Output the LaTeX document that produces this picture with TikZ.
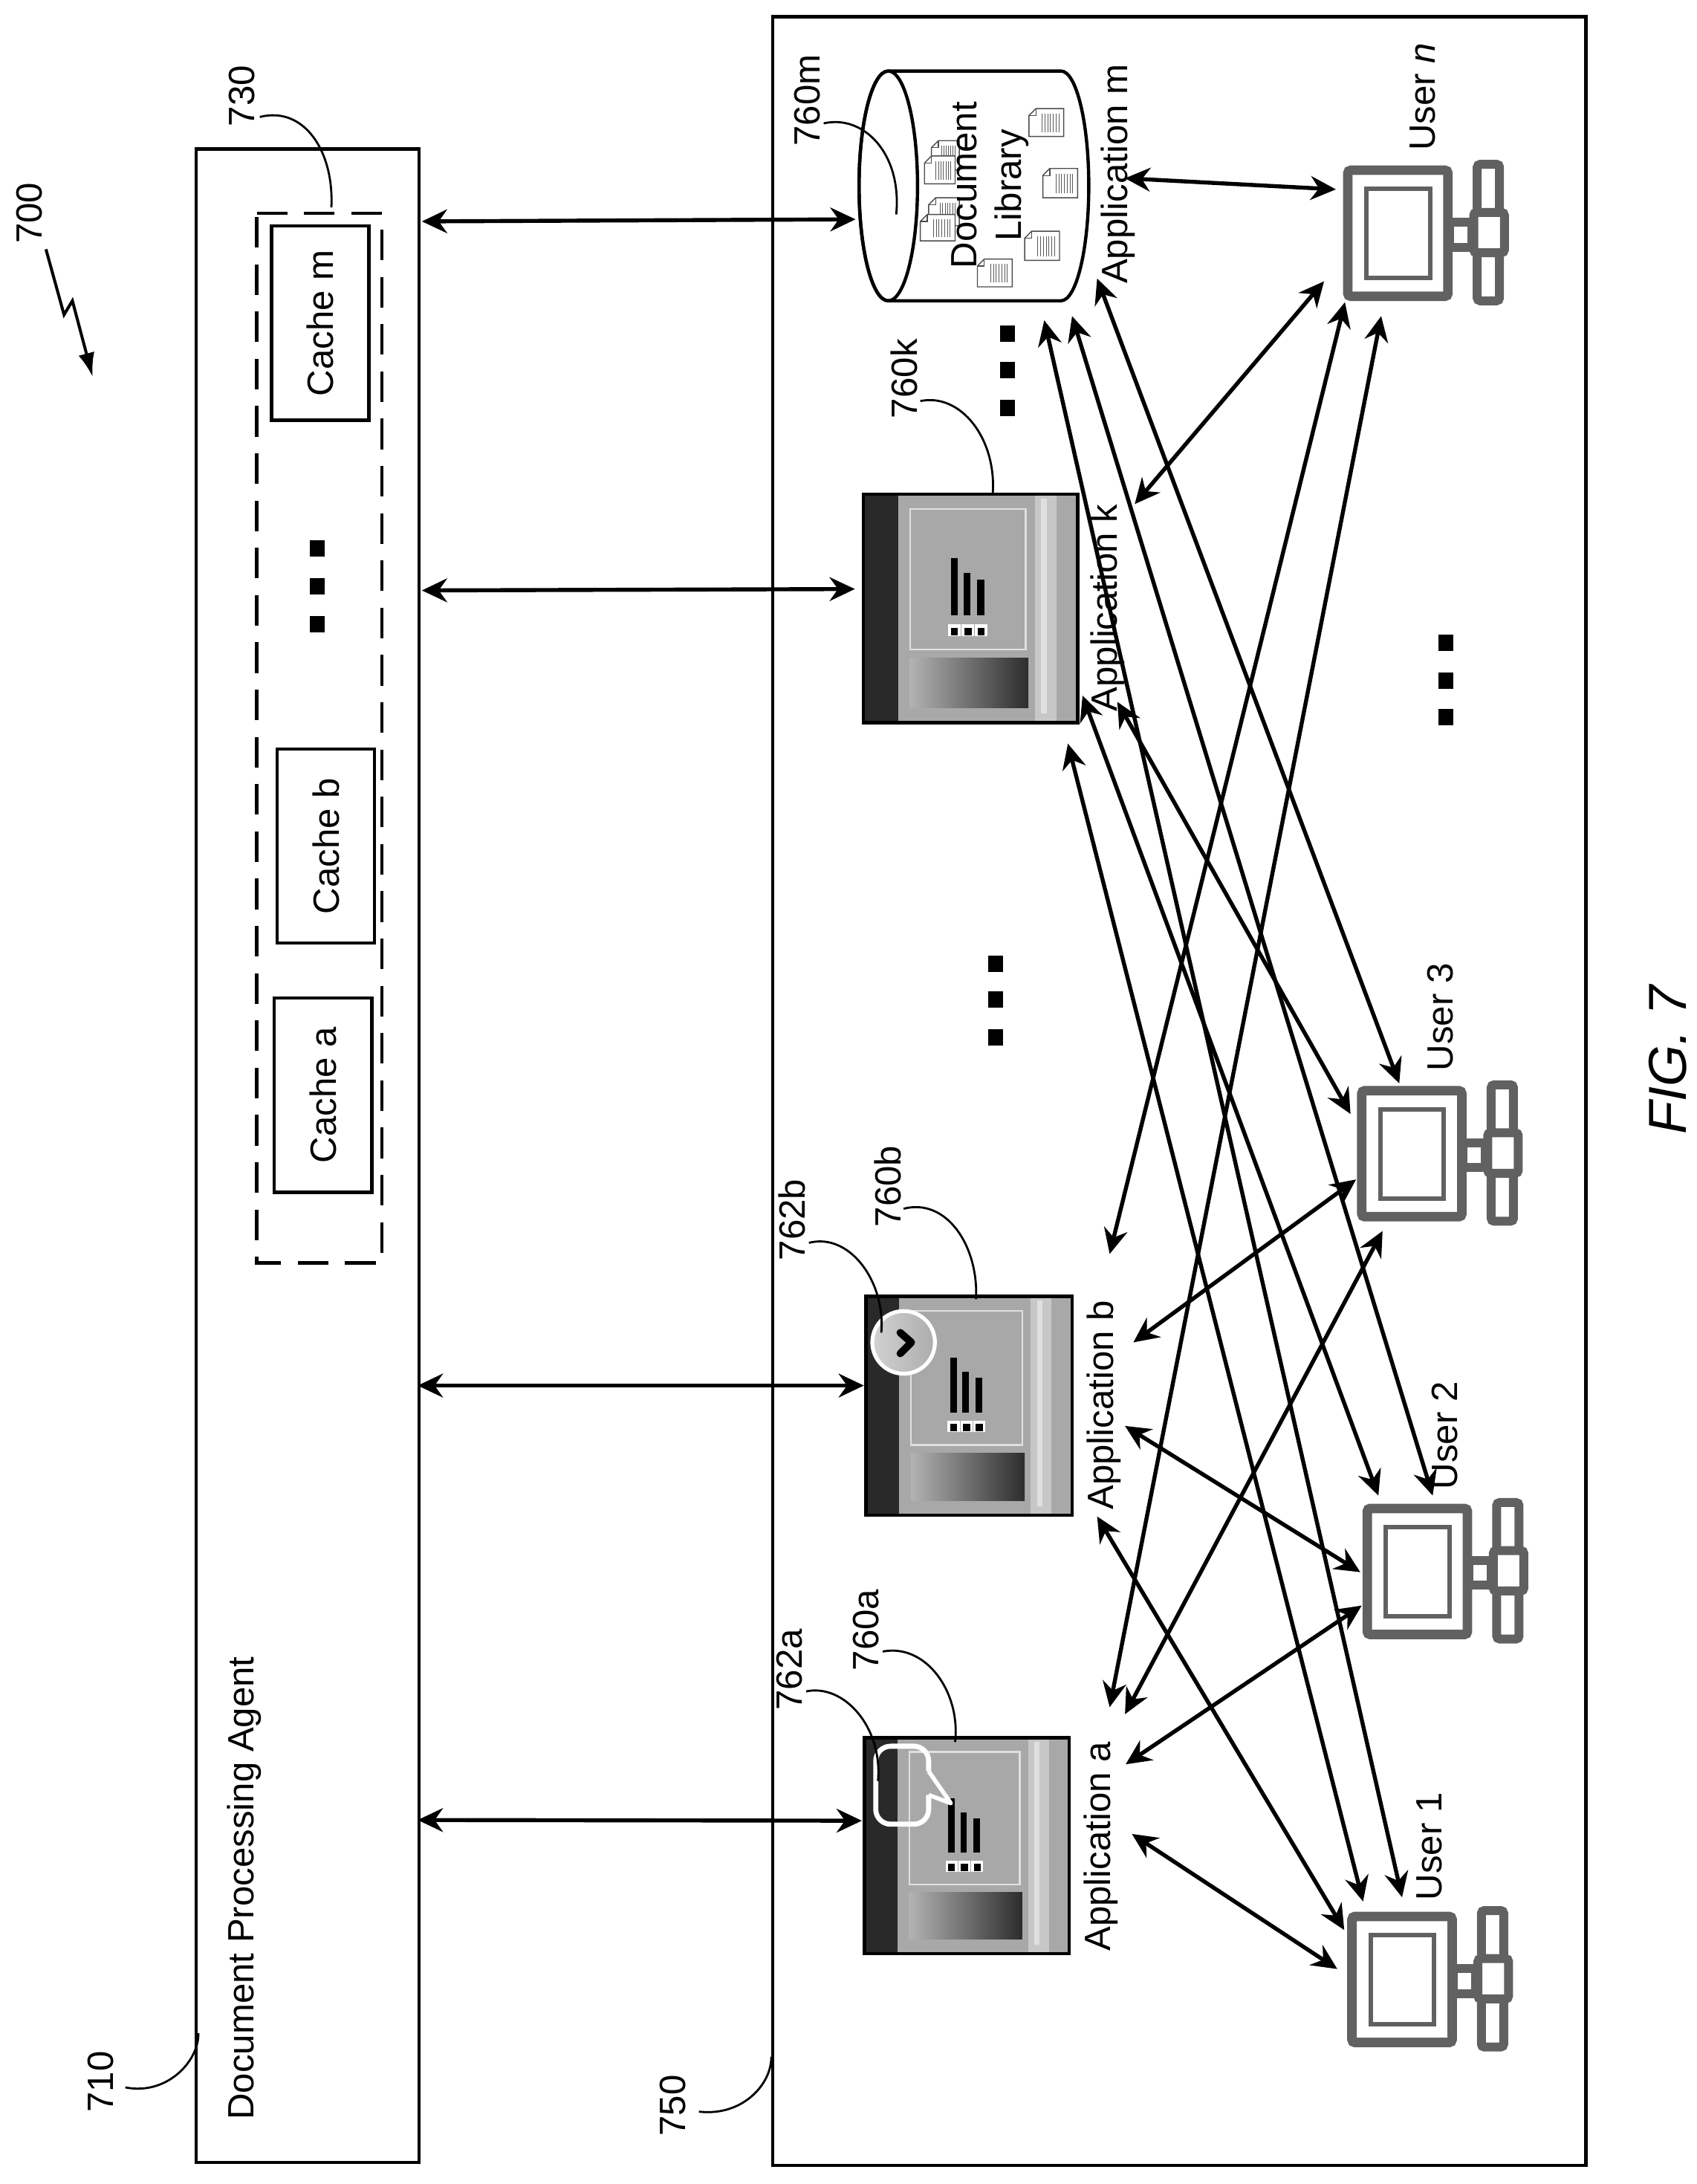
\documentclass[tikz,border=0pt]{standalone}
\usepackage{fontspec}
\setmainfont{Liberation Sans}
\usetikzlibrary{arrows.meta}
\definecolor{appbody}{gray}{0.66}
\definecolor{appbar}{gray}{0.16}
\definecolor{appline}{gray}{0.88}
\definecolor{usergray}{gray}{0.38}
\tikzset{
  outerbox/.style={draw, rotate=90, line width=1.1pt, inner sep=0pt},
  cachebox/.style={draw, rotate=90, line width=1.1pt, inner sep=0pt, fill=white, minimum width=65.3pt, minimum height=32.8pt, font=\fontsize{12.3}{14}\selectfont},
  lbl/.style={rotate=90, inner sep=0pt, font=\fontsize{12.3}{14}\selectfont},
  squaredot/.style={fill=black, inner sep=0pt, minimum width=5pt, minimum height=5.5pt},
  link/.style={{Stealth[length=8.5pt,width=8pt,inset=2.8pt]}-{Stealth[length=8.5pt,width=8pt,inset=2.8pt]}, line width=1.35pt},
  leader/.style={line width=.7pt},
  monitor/.style={draw=usergray, fill=white, line width=3.2pt, rounded corners=1pt}
}
\newcommand{\appicon}[4]{
  \begin{scope}[shift={(#1,#2)}, xscale=#3, yscale=#4]
    \fill[appbody] (0,0) rectangle (1,1);
    \fill[appbar] (0,0) rectangle (.162,1);
    \fill[appline!55!appbody] (.80,0) rectangle (.90,1);
    \fill[appline] (.83,.02) rectangle (.855,.96);
    \draw[appline, line width=.6pt] (.218,.065) rectangle (.758,.68);
    \shade[left color=gray!60, right color=gray!35!black] (.218,.717) rectangle (.77,.934);
    \fill[black] (.408,.28) rectangle (.442,.53);
    \fill[black] (.468,.344) rectangle (.50,.53);
    \fill[black] (.532,.373) rectangle (.565,.53);
    \foreach \dx in {.395,.458,.52} {
      \fill[white] (\dx,.57) rectangle ++(.06,.05);
      \fill[black] (\dx+.013,.584) rectangle ++(.034,.032);
    }
    \draw[line width=1.1pt] (0,0) rectangle (1,1);
  \end{scope}
}
\newcommand{\usericon}[3]{
  \begin{scope}[shift={(#2,#3)}]
    \draw[usergray, fill=white, line width=3pt, rounded corners=1pt] (93+3,-4+3) rectangle (115-3,100-3);
    \draw[usergray, fill=white, line width=3pt] (76,40.5) rectangle (92,58.5);
    \draw[usergray, fill=white, line width=3pt, rounded corners=1pt] (90+3.5,30+3.5) rectangle (119-3.5,66-3.5);
    \node[monitor, minimum width=33.7pt, minimum height=42.4pt] (#1) at (39,48.5) {};
    \draw[usergray, line width=1.5pt] (16.5,16.5) rectangle (62,80.5);
  \end{scope}
}
\newcommand{\docpage}[4]{
  \begin{scope}[shift={(#1,#2)}]
    \draw[gray!60!black, fill=white, line width=.35pt] (5,0) -- (#3,0) -- (#3,#4) -- (0,#4) -- (0,5) -- cycle;
    \draw[gray!60!black, line width=.3pt] (0,5) -- (5,5) -- (5,0);
    \foreach \n in {.38,.46,.54,.62,.70,.78,.86} {
      \draw[gray!70!black, line width=.25pt] (\n*#3,.18*#4) -- (\n*#3,.85*#4);
    }
  \end{scope}
}
\begin{document}
\begin{tikzpicture}[x=.4685pt, y=-.4685pt]
  \useasboundingbox (0,0) rectangle (1218.4,1568.4);
  \node[outerbox, minimum width=677.5pt, minimum height=75pt] (agent) at (221,830) {};
  \node[outerbox, minimum width=722.9pt, minimum height=273.6pt] (clients) at (847,783.5) {};
  \node[lbl] (agentlabel) at (175.5,1356) {Document Processing Agent};

  \draw[line width=1.1pt, dash pattern=on 10.3pt off 5.6pt] (184.4,153) -- (274.3,153) -- (274.3,907) -- (184.4,907) -- cycle;
  \node[cachebox] (cachem) at (230,232) {Cache m};
  \node[cachebox] (cacheb) at (234,607.5) {Cache b};
  \node[cachebox] (cachea) at (232,786.5) {Cache a};
  \node[squaredot] (cachedot1) at (228,394) {};
  \node[squaredot] (cachedot2) at (228,421) {};
  \node[squaredot] (cachedot3) at (228,448) {};

  \appicon{621}{1248}{147}{155}
  \appicon{622}{931}{148}{157}
  \appicon{620}{355}{154}{164}

  \shade[left color=gray!35, right color=gray!65] (649,964) circle [x radius=22.5, y radius=22.5];
  \draw[white, line width=1.3pt] (649,964) circle [x radius=22.5, y radius=22.5];
  \draw[black, line width=2.5pt, line cap=round, line join=round] (646.6,957) -- (654.6,964) -- (646.6,972);
  \draw[white, line width=1.7pt, rounded corners=5pt] (667,1272) -- (667,1254) -- (629,1254) -- (629,1310) -- (667,1310) -- (667,1289);
  \draw[white, line width=1.4pt, line join=round] (667,1272) -- (683,1295) -- (667,1289);

  \draw[line width=1.1pt, fill=white] (638,51) -- (762,51) arc[start angle=-90, end angle=90, x radius=20, y radius=82.5] -- (638,216) arc[start angle=90, end angle=270, x radius=21, y radius=82.5];
  \draw[line width=1.1pt] (638,133.5) ellipse [x radius=21, y radius=82.5];
  \docpage{739}{78}{25}{20}
  \docpage{749}{121}{25}{21}
  \docpage{736}{166}{25}{21}
  \docpage{702}{186}{25}{20}
  \docpage{669}{101}{20}{21}
  \docpage{664}{112}{22}{20}
  \docpage{667}{142}{22}{20}
  \docpage{661}{154}{25}{19}
  \node[lbl] (doclabel1) at (692.5,133) {Document};
  \node[lbl] (doclabel2) at (726.5,133) {Library};

  \usericon{usern}{965}{119}
  \usericon{userthree}{975}{780}
  \usericon{usertwo}{979}{1080}
  \usericon{userone}{968}{1373}

  \node[lbl] (appalabel) at (791,1326) {Application a};
  \node[lbl] (appblabel) at (793,1009) {Application b};
  \node[lbl] (appklabel) at (795.5,436.5) {Application k};
  \node[lbl] (appmlabel) at (803,125) {Application m};
  \node[lbl] (useronelabel) at (1026.5,1326) {User 1};
  \node[lbl] (usertwolabel) at (1037.5,1031) {User 2};
  \node[lbl] (userthreelabel) at (1034.5,730.5) {User 3};
  \node[lbl] (usernlabel) at (1022,69.5) {User \textit{n}};

  \foreach \y in {239.7,265.8,293} {
    \node[squaredot] (kdot\y) at (723.8,\y) {};
  }
  \foreach \y in {692,718,745} {
    \node[squaredot] (middot\y) at (715,\y) {};
  }
  \foreach \y in {461.7,488.6,515} {
    \node[squaredot] (userdot\y) at (1038.5,\y) {};
  }

  \foreach \n/\x/\y in {
    La/300/1307, Ra/619/1307.5, Lb/300/995, Rb/620.5/995,
    Lk/303/424, Rk/614/423, Lm/303/159, Rm/614.5/157.5,
    aone/813/1317, onea/960.5/1414, atwo/808.5/1267, twoa/978/1153,
    athree/808/1231, threea/993/884, an/797/1226, na/992/227,
    bone/788/1089, oneb/965.5/1386, btwo/808/1024, twob/977/1129,
    bthree/814/964, threeb/974/847, bn/797/900.5, nb/966/217,
    kone/767/534, onek/979/1365.5, ktwo/777.5/499.5, twok/990/1074,
    kthree/802.5/504, threek/970/800, kn/815/362, nk/951/202,
    mone/750/230, onem/1007/1362.5, mtwo/770/227, twom/1029/1074,
    mthree/788/200, threem/1005/778, mn/808/128, nm/959.5/136} {
    \coordinate (\n) at (\x,\y);
  }
  \foreach \s/\t in {La/Ra, Lb/Rb, Lk/Rk, Lm/Rm,
    aone/onea, atwo/twoa, athree/threea, an/na,
    bone/oneb, btwo/twob, bthree/threeb, bn/nb,
    kone/onek, ktwo/twok, kthree/threek, kn/nk,
    mone/onem, mtwo/twom, mthree/threem, mn/nm} {
    \draw[link] (\s) -- (\t);
  }

  \node[lbl] (label700) at (21,153) {700};
  \coordinate (zapA) at (33,179);
  \coordinate (zapB) at (46,226);
  \coordinate (zapC) at (52,216);
  \coordinate (zapD) at (66.5,270.5);
  \draw[line width=1pt, -{Latex[length=8pt,width=5.5pt]}] (zapA) -- (zapB) -- (zapC) -- (zapD);

  \node[lbl] (label710) at (72.6,1495) {710};
  \draw[leader] (90,1499) .. controls (120,1505) and (143,1480) .. (142.5,1460);
  \node[lbl] (label730) at (174,69) {730};
  \draw[leader] (186.6,84) .. controls (218,76) and (240,108) .. (238,149);
  \node[lbl] (label750) at (483.5,1512) {750};
  \draw[leader] (502,1516.4) .. controls (532,1520) and (554,1498) .. (554,1477);
  \node[lbl] (label760m) at (580,72) {760m};
  \draw[leader] (591.6,88.6) .. controls (620,82) and (648,110) .. (643.7,154);
  \node[lbl] (label760k) at (649.5,272) {760k};
  \draw[leader] (661,288) .. controls (690,282) and (716,315) .. (713,355);
  \node[lbl] (label760b) at (637.5,852) {760b};
  \draw[leader] (649,868) .. controls (680,860) and (703,895) .. (701,933);
  \node[lbl] (label762b) at (568.7,876) {762b};
  \draw[leader] (581,892.5) .. controls (610,885) and (636,920) .. (633,957);
  \node[lbl] (label760a) at (622,1170.5) {760a};
  \draw[leader] (634,1186) .. controls (665,1180) and (690,1215) .. (686,1251);
  \node[lbl] (label762a) at (567,1199) {762a};
  \draw[leader] (579,1214.6) .. controls (606,1209) and (634,1240) .. (630.6,1279);

  \node[rotate=90, inner sep=0pt, font=\fontsize{18}{20}\selectfont\itshape] (figcaption) at (1198,761) {FIG. 7};
\end{tikzpicture}
\end{document}
